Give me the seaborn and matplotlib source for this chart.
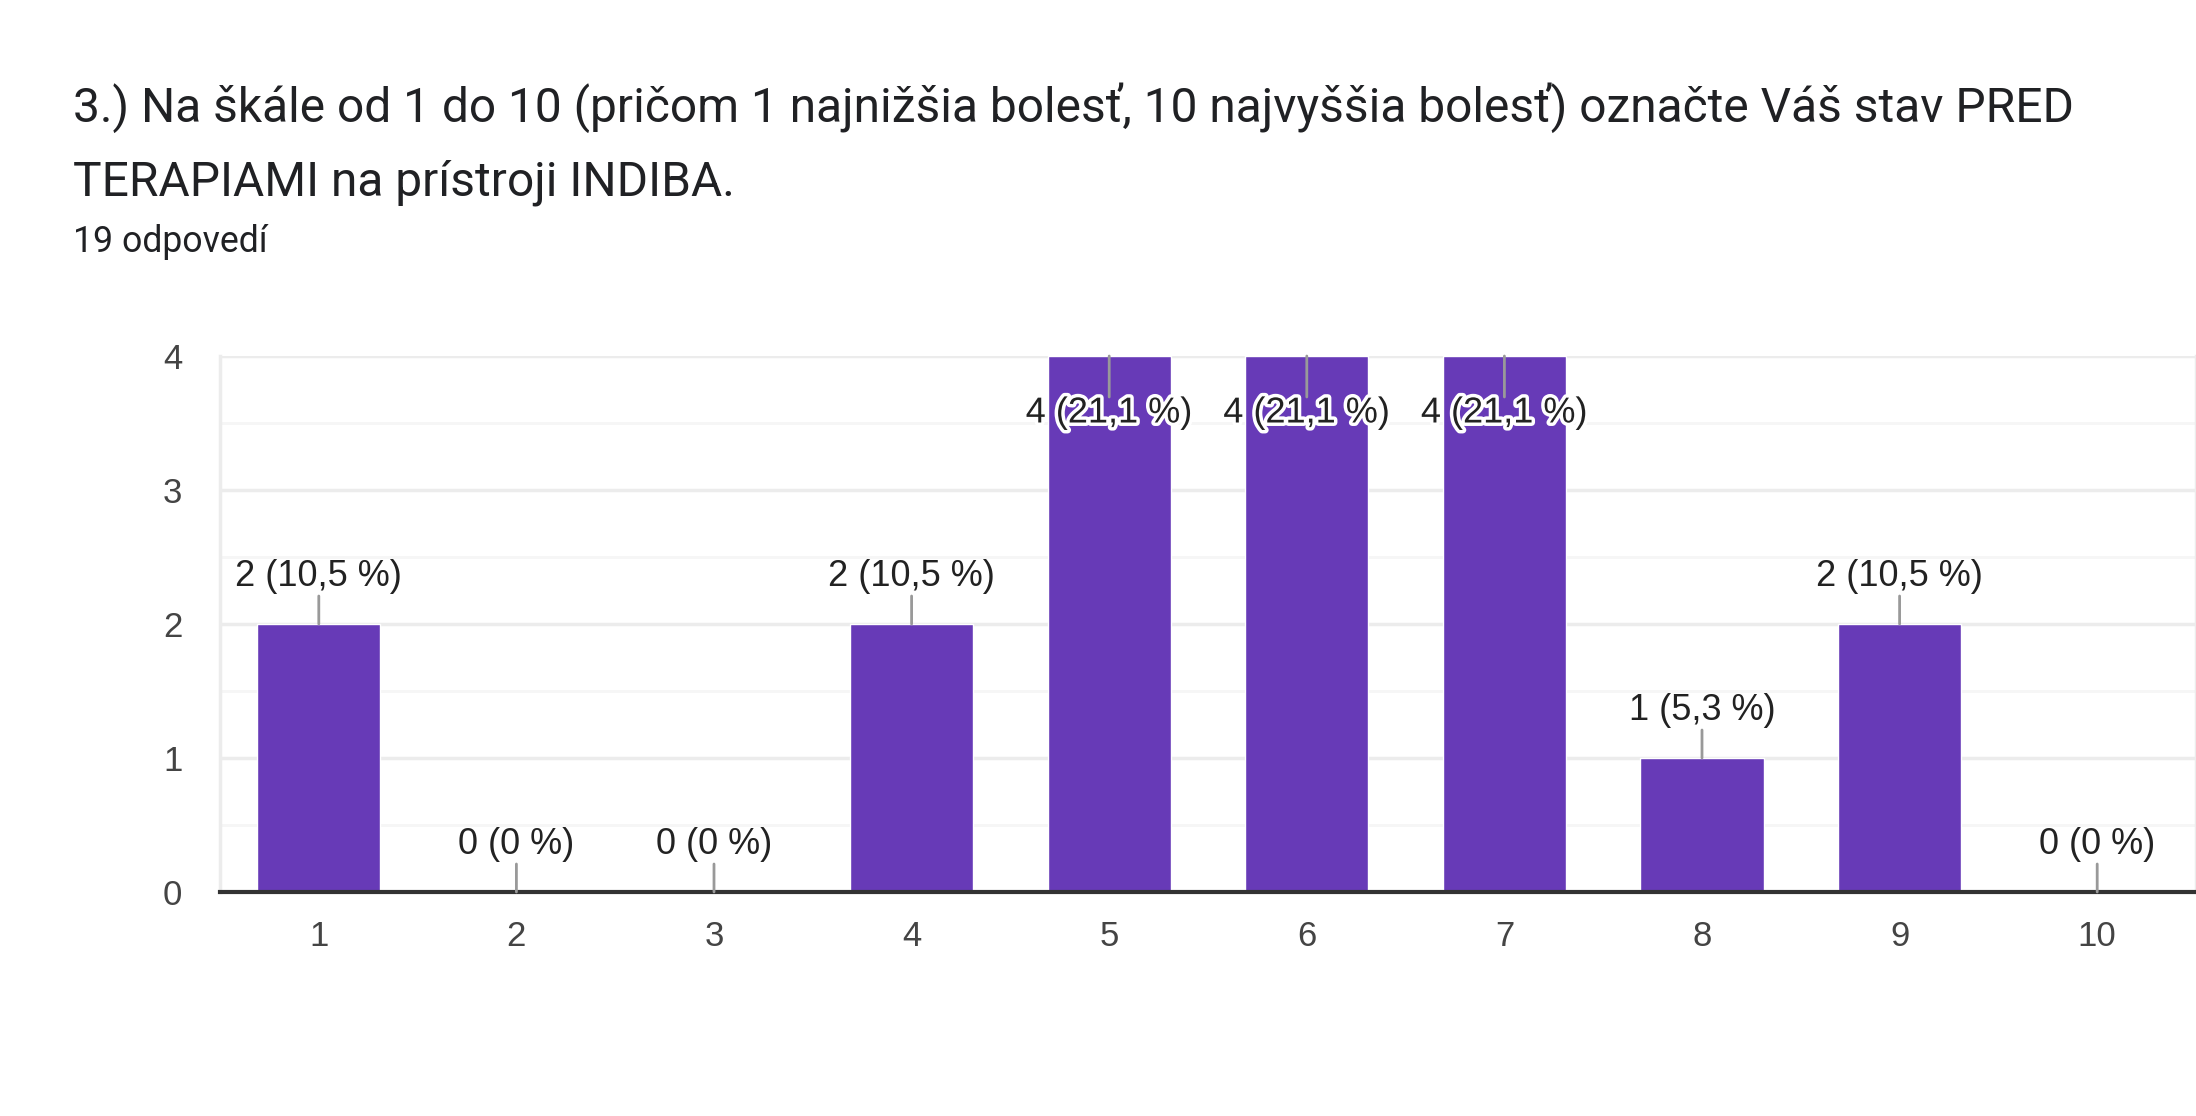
import matplotlib
matplotlib.use("Agg")
import matplotlib.pyplot as plt
import matplotlib.patheffects as pe
import seaborn as sns
import pandas as pd

# -----------------------------
# Data
# -----------------------------
scale = ["1", "2", "3", "4", "5", "6", "7", "8", "9", "10"]
counts = [2, 0, 0, 2, 4, 4, 4, 1, 2, 0]
total = 19

title = ("3.) Na škále od 1 do 10 (pričom 1 najnižšia bolesť, 10 najvyššia bolesť) označte Váš stav PRED\n"
         "TERAPIAMI na prístroji INDIBA.")
subtitle = f"{total} odpovedí"

df = pd.DataFrame({"scale": scale, "count": counts})

sns.set_style("white")
plt.rcParams["font.family"] = ["Liberation Sans", "DejaVu Sans"]

fig = plt.figure(figsize=(21.96, 11.16), dpi=100)
ax = fig.add_axes([220 / 2196, 1 - 892 / 1116, 1 - 220 / 2196, (892 - 356) / 1116])

sns.barplot(data=df, x="scale", y="count", color="#673AB7", width=0.623,
            saturation=1, ax=ax, zorder=3)

ax.set_xlim(-0.5, len(scale) - 0.5)
ax.set_ylim(0, 4)
ax.set_yticks([0, 1, 2, 3, 4])
ax.set_yticks([0.5, 1.5, 2.5, 3.5], minor=True)
ax.grid(axis="y", which="major", color="#ececec", lw=2.5, zorder=0)
ax.grid(axis="y", which="minor", color="#f6f6f6", lw=2, zorder=0)
ax.set_axisbelow(True)
ax.set_xlabel("")
ax.set_ylabel("")

for side in ["left", "right"]:
    ax.spines[side].set_color("#ececec")
    ax.spines[side].set_linewidth(2.5)
ax.spines["top"].set_visible(False)
ax.spines["bottom"].set_color("#333333")
ax.spines["bottom"].set_linewidth(3)
ax.spines["bottom"].set_zorder(5)

ax.tick_params(axis="both", length=0, labelsize=25, labelcolor="#444444")
ax.tick_params(axis="x", pad=20)
ax.tick_params(axis="y", pad=27)

# -----------------------------
# Value labels
# -----------------------------
vmax = max(counts)
for i, v in enumerate(counts):
    pct = round(v / total * 100, 1)
    pct_s = (f"{pct:.1f}".replace(".", ",")).replace(",0", "")
    label = f"{v} ({pct_s} %)"
    if v == vmax:
        ax.annotate("", xy=(i, v), xytext=(0, -41), textcoords="offset pixels",
                    arrowprops=dict(arrowstyle="-", color="#999999", lw=2,
                                    shrinkA=0, shrinkB=0), zorder=6)
        ax.annotate(label, xy=(i, v), xytext=(0, -57), textcoords="offset pixels",
                    ha="center", va="center", fontsize=26, color="#222222",
                    path_effects=[pe.withStroke(linewidth=5, foreground="white")],
                    zorder=7)
    else:
        ax.annotate("", xy=(i, v), xytext=(0, 28), textcoords="offset pixels",
                    arrowprops=dict(arrowstyle="-", color="#999999", lw=2,
                                    shrinkA=0, shrinkB=0), zorder=6)
        ax.annotate(label, xy=(i, v), xytext=(0, 48), textcoords="offset pixels",
                    ha="center", va="center", fontsize=26, color="#222222",
                    zorder=7)

# -----------------------------
# Titles
# -----------------------------
fig.text(73 / 2196, 1 - 196 / 1116, title, ha="left", va="baseline",
         fontsize=34.5, color="#202124", linespacing=1.74,
         family=["Roboto", "DejaVu Sans"])
fig.text(73 / 2196, 1 - 252 / 1116, subtitle, ha="left", va="baseline",
         fontsize=25.7, color="#202124", family=["Roboto", "DejaVu Sans"])

fig.savefig("out.png", dpi=100)
